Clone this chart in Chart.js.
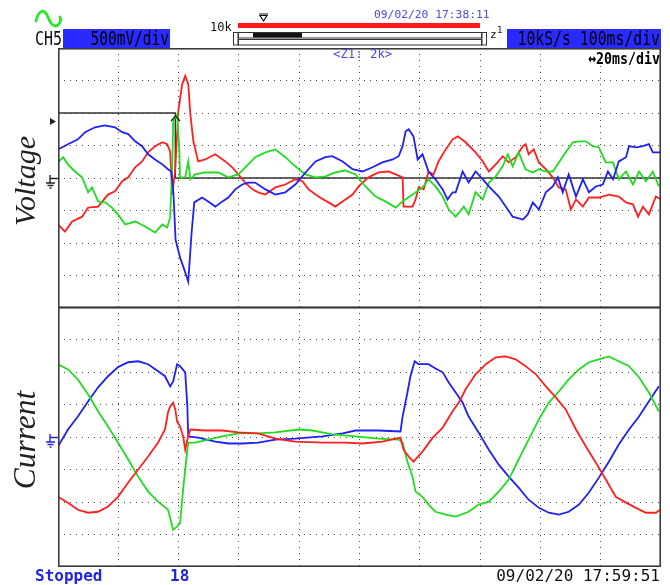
<!DOCTYPE html>
<html>
<head>
<meta charset="utf-8">
<script src="https://cdn.jsdelivr.net/npm/chart.js@4.4.1/dist/chart.umd.min.js"></script>
<style>
  body { margin: 0; width: 670px; height: 585px; background: #fff; position: relative; overflow: hidden; }
  canvas { position: absolute; }
  #voltChart { left: 58px; top: 48px; }
  #currChart { left: 58px; top: 307px; }
  svg.ov { position: absolute; left: 0; top: 0; pointer-events: none; }
  svg text { font-family: 'DejaVu Sans Mono', monospace; }
</style>
</head>
<body>
<canvas id="voltChart" width="603" height="260"></canvas>
<canvas id="currChart" width="603" height="260"></canvas>

<svg class="ov" width="670" height="585" viewBox="0 0 670 585">
  <!-- header -->
  <path d="M36,21 C38,12 43,8 46.5,14 C49,19 51,26 55,26 C59,26 62,21 60,17" fill="none" stroke="#2ee62e" stroke-width="2.8" stroke-linecap="round"/>
  <text transform="translate(35,45) scale(1,1.28)" font-size="15" fill="#111">CH5</text>
  <rect x="63" y="29" width="107" height="19" fill="#2a2aff"/>
  <text transform="translate(169,45) scale(1,1.3)" font-size="14.5" fill="#000" text-anchor="end">500mV/div</text>

  <text x="210" y="31" font-size="12" fill="#111">10k</text>
  <rect x="238" y="23" width="242" height="5" fill="#ff1a1a"/>
  <path d="M259,14 H268 M260,15.5 L267,15.5 L263.5,21 Z" fill="none" stroke="#111" stroke-width="1.2"/>
  <rect x="233.5" y="32.5" width="4.5" height="12.5" fill="#fff" stroke="#333"/>
  <rect x="238.5" y="32.5" width="243" height="5.5" fill="#fff" stroke="#333"/>
  <rect x="253" y="33" width="49" height="4.5" fill="#111"/>
  <rect x="238.5" y="39.5" width="243" height="5.5" fill="#fff" stroke="#333"/>
  <rect x="482" y="32.5" width="4.5" height="12.5" fill="#fff" stroke="#333"/>
  <text x="490" y="38" font-size="11" fill="#111">z</text>
  <text x="497" y="33" font-size="9" fill="#111">1</text>
  <text x="374" y="18" font-size="11.3" fill="#4b4bdc">09/02/20 17:38:11</text>
  <rect x="507" y="29" width="154" height="19" fill="#2a2aff"/>
  <text transform="translate(660,45) scale(1,1.3)" font-size="14.8" fill="#000" text-anchor="end">10kS/s 100ms/div</text>

  <text x="333" y="58" font-size="12.3" fill="#4b4bdc">&lt;Z1: 2k&gt;</text>
  <text transform="translate(660,64) scale(1,1.25)" font-size="13.3" font-weight="bold" fill="#000" text-anchor="end">↔20ms/div</text>

  <!-- panel labels and markers -->
  <text transform="translate(35,181) rotate(-90)" font-style="italic" font-size="30" fill="#222" text-anchor="middle" style="font-family:'Liberation Serif',serif">Voltage</text>
  <text transform="translate(35,440) rotate(-90)" font-style="italic" font-size="31.5" fill="#222" text-anchor="middle" style="font-family:'Liberation Serif',serif">Current</text>
  <polygon points="50,118 56,121.5 50,125" fill="#222"/>
  <path d="M50,175 V183 M50,178.5 H58 M46,183 H55 M47.5,185.5 H53.5 M49.5,188 H51.5" fill="none" stroke="#222" stroke-width="1.4"/>
  <path d="M50,434 V442 M50,437.5 H58 M46,442 H55 M47.5,444.5 H53.5 M49.5,447 H51.5" fill="none" stroke="#2323e0" stroke-width="1.4"/>
  <path d="M171,121 L175.5,116 L180,121" fill="none" stroke="#222" stroke-width="1.2"/>

  <!-- footer -->
  <text x="35" y="581" font-size="16" font-weight="bold" fill="#2323e0">Stopped</text>
  <text x="170" y="581" font-size="16" font-weight="bold" fill="#2323e0">18</text>
  <text x="660" y="581" font-size="16" fill="#111" text-anchor="end">09/02/20 17:59:51</text>
</svg>

<script>
// time in ms (20 ms/div), amplitude in divisions (8 div full scale)
const voltBlueT = [0,3.3,6.6,9.0,12.3,15.6,18.9,21.3,23.3,25.6,27.9,29.9,32.2,34.6,36.5,37.6,38.3,39.0,40.5,42.0,43.2,44.3,45.2,47.8,49.8,52.2,54.5,56.5,58.8,61.1,63.1,65.4,68.8,72.1,75.4,78.7,82.1,85.4,88.7,91.0,94.4,97.7,101.0,104.3,107.6,111.0,113.0,114.3,115.3,116.3,117.9,119.3,120.9,122.9,125.2,127.6,129.2,130.9,131.9,134.2,136.2,138.5,140.9,142.9,146.2,148.5,150.8,154.2,155.8,157.5,159.5,161.8,164.1,165.8,167.4,169.4,171.8,174.1,176.1,178.4,180.7,182.4,184.1,186.0,188.4,189.4,191.7,194.0,196.0,197.3,200];
const voltBlue = [0.88,1.04,1.19,1.41,1.56,1.62,1.56,1.41,1.35,1.13,0.98,0.73,0.57,0.42,0.27,0.20,-0.50,-1.90,-2.45,-2.85,-3.19,-1.70,-0.75,-0.60,-0.72,-0.88,-0.72,-0.60,-0.35,-0.20,-0.14,-0.14,-0.35,-0.51,-0.44,-0.20,0.17,0.51,0.64,0.67,0.51,0.27,0.20,0.33,0.48,0.57,0.67,0.98,1.44,1.50,1.28,0.57,0.73,0.20,-0.04,-0.35,-0.66,-0.44,-0.44,0.20,-0.14,0.20,-0.04,-0.26,-0.57,-0.88,-1.19,-1.28,-1.12,-0.75,-0.97,-0.44,-0.26,0.02,-0.44,0.11,-0.57,-0.04,-0.44,-0.26,-0.20,0.20,-0.04,0.51,0.64,0.98,0.94,0.98,1.04,0.79,0.79];

const voltRedT = [0,2.3,4.7,8.0,10.0,13.3,16.6,18.9,21.3,23.3,25.6,27.9,29.9,32.2,34.6,36.2,37.2,37.9,38.9,39.9,41.2,42.2,43.2,43.9,44.9,46.5,48.8,52.2,55.5,57.8,59.8,62.1,64.5,66.4,68.8,72.1,75.4,78.7,81.1,83.1,86.4,89.7,92.0,94.4,97.7,99.7,103.0,106.3,109.6,112.0,114.3,114.6,117.6,118.6,119.6,121.3,122.9,124.6,126.2,128.6,130.9,132.6,135.2,138.5,140.9,142.9,145.2,147.5,149.5,151.8,154.2,155.1,156.1,157.8,159.5,161.8,164.1,166.1,168.4,170.1,171.8,174.1,176.1,179.4,182.7,186.0,188.4,190.7,192.4,194.0,196.0,198.3,200];
const voltRed = [-1.43,-1.65,-1.34,-1.19,-0.91,-0.88,-0.51,-0.41,-0.10,0.02,0.33,0.51,0.79,0.98,1.10,1.04,0.82,-0.51,0.27,2.06,2.89,3.14,2.89,1.96,1.13,0.51,0.57,0.73,0.51,0.33,0.11,-0.14,-0.35,-0.44,-0.51,-0.29,-0.20,-0.04,-0.10,-0.35,-0.57,-0.75,-0.88,-0.72,-0.51,-0.26,0.02,0.17,0.20,0.11,0.02,-0.88,-0.88,-0.66,-0.29,-0.35,0.20,0.11,0.51,0.88,1.19,1.28,1.10,0.79,0.51,0.20,0.42,0.67,0.48,0.64,0.98,1.04,0.73,0.88,0.48,0.27,0.02,-0.29,-0.35,-0.97,-0.66,-0.88,-0.60,-0.60,-0.51,-0.57,-0.75,-0.81,-1.19,-0.88,-1.12,-0.57,-0.66];

const voltGreenT = [0,1.7,3.3,5.6,8.0,10.0,11.3,13.3,15.6,17.9,19.9,22.3,25.6,28.9,32.2,34.6,36.2,37.2,37.9,38.2,39.5,40.2,40.5,42.2,43.2,43.9,45.5,48.8,53.2,56.5,59.8,63.1,65.4,68.8,72.1,75.4,78.7,82.1,85.4,88.7,92.0,95.3,98.7,102.0,105.3,108.6,112.0,114.3,117.6,120.9,122.9,125.2,127.6,129.6,131.9,134.6,136.2,138.5,140.9,142.9,145.2,147.5,149.2,150.8,152.8,155.1,157.5,159.5,161.8,164.1,166.1,168.4,170.8,172.8,175.1,177.4,179.4,181.7,184.1,186.0,188.4,190.7,192.7,195.0,197.3,199.3];
const voltGreen = [0.48,0.64,0.42,0.20,0.02,-0.44,-0.29,-0.72,-0.75,-0.91,-1.12,-1.43,-1.34,-1.49,-1.68,-1.43,-1.52,-1.22,0.42,1.75,1.96,0.94,0.02,0.02,0.51,-0.04,0.11,0.17,0.17,0.02,0.11,0.42,0.64,0.79,0.88,0.64,0.36,0.11,0.02,0.05,0.17,0.23,0.11,-0.26,-0.57,-0.72,-0.91,-0.72,-0.51,-0.29,-0.04,-0.26,-0.57,-0.97,-1.19,-0.88,-1.12,-0.44,-0.66,-0.14,0.05,0.36,0.73,0.36,0.79,0.27,0.17,0.27,0.20,0.20,0.48,0.79,1.10,1.13,1.13,0.98,0.94,0.48,0.48,-0.04,0.20,-0.20,0.20,-0.10,0.20,-0.26];

// trigger level cursor
const trigT = [0, 38.9, 38.9, 200];
const trigV = [2.0, 2.0, 0, 0];

const currBlueT = [0,3.3,6.6,10.0,13.3,16.6,19.9,23.3,26.6,29.9,33.2,35.5,37.2,38.2,39.5,40.5,42.2,42.9,43.2,46.5,52.2,56.5,61.1,66.4,72.1,78.7,87.7,94.4,98.7,106.3,113.6,114.3,115.9,116.9,118.3,119.6,122.9,125.2,127.6,129.6,131.9,134.2,136.2,139.5,142.9,146.2,149.5,152.8,156.1,159.5,162.8,166.1,169.4,172.8,176.1,179.4,182.7,186.0,189.4,192.7,196.0,199.3];
const currBlue = [-0.29,0.23,0.63,1.10,1.53,1.87,2.15,2.30,2.33,2.24,2.02,1.87,1.56,1.71,2.24,2.18,1.99,0.94,0.02,-0.02,-0.14,-0.20,-0.20,-0.17,-0.08,-0.05,0.02,0.11,0.20,0.20,0.17,0.63,1.37,1.87,2.33,2.24,2.24,2.11,1.99,1.68,1.37,1.06,0.63,0.14,-0.39,-0.85,-1.22,-1.56,-1.93,-2.18,-2.33,-2.39,-2.30,-2.08,-1.71,-1.25,-0.76,-0.23,0.23,0.63,1.10,1.56];

const currRedT = [0,3.3,6.6,10.0,13.3,16.6,19.9,23.3,26.6,29.9,33.2,35.5,36.5,37.2,38.2,38.9,39.5,40.5,41.5,42.2,42.9,43.9,48.8,54.5,59.8,66.4,72.1,78.7,87.7,95.3,101.0,107.6,113.6,114.6,116.3,117.9,120.9,124.3,127.6,130.9,133.2,135.2,138.5,141.9,145.2,148.5,151.8,155.1,158.5,161.8,165.1,168.4,171.8,175.1,178.4,181.7,185.0,188.4,191.7,195.0,198.3,199.7];
const currRed = [-1.84,-2.02,-2.24,-2.33,-2.30,-2.14,-1.84,-1.40,-1.00,-0.60,-0.17,0.23,0.76,0.94,1.06,0.85,0.48,0.32,0.02,-0.39,-0.08,0.23,0.20,0.20,0.14,0.11,-0.05,-0.14,-0.17,-0.17,-0.20,-0.14,-0.02,-0.39,-0.60,-0.76,-0.45,-0.02,0.29,0.79,1.10,1.47,1.93,2.24,2.45,2.48,2.39,2.18,1.93,1.56,1.22,0.85,0.23,-0.29,-0.79,-1.31,-1.84,-2.02,-2.18,-2.33,-2.33,-2.24];

const currGreenT = [0,3.3,6.6,10.0,13.3,16.6,19.9,23.3,26.6,29.9,33.2,36.5,38.2,39.5,40.5,41.5,42.9,43.2,45.5,49.8,54.5,59.8,66.4,72.1,79.7,84.4,91.0,98.7,106.3,113.0,114.3,115.9,117.6,118.6,120.9,122.9,125.2,128.6,131.9,136.2,139.5,142.9,146.2,149.5,152.8,156.1,159.5,162.8,166.1,169.4,172.8,176.1,179.4,182.7,186.0,189.4,192.7,196.0,199.3];
const currGreen = [2.24,2.08,1.77,1.31,0.79,0.32,-0.17,-0.69,-1.22,-1.68,-1.99,-2.24,-2.85,-2.76,-2.64,-1.61,-0.39,-0.17,-0.17,-0.08,0.02,0.11,0.11,0.14,0.23,0.20,0.08,0.02,-0.05,-0.08,-0.17,-0.76,-1.22,-1.68,-1.84,-2.08,-2.30,-2.39,-2.45,-2.30,-2.08,-1.99,-1.68,-1.31,-0.69,-0.08,0.54,1.06,1.40,1.77,2.08,2.30,2.39,2.48,2.33,2.18,1.84,1.37,0.79];

const RED = '#ff1f1f', GREEN = '#1fdc1f', BLUE = '#2020f4';

function pts(t, v) {
    let out = [];
    for (let i = 0; i < Math.min(t.length, v.length); i++) out.push({ x: t[i], y: v[i] });
    return out;
}

function trace(t, v, color, width) {
    return { data: pts(t, v), borderColor: color, borderWidth: width || 1.8, pointRadius: 0, tension: 0 };
}

// dark frame round each panel
const framePlugin = {
    id: 'frame',
    afterDraw(chart) {
        const { ctx, chartArea: a } = chart;
        ctx.save();
        ctx.strokeStyle = '#3c3c3c';
        ctx.lineWidth = 1.6;
        ctx.strokeRect(a.left + 0.8, a.top + 0.8, a.width - 1.6, a.height - 1.6);
        ctx.restore();
    }
};

function scopeChart(id, sets) {
    const gridOpts = { color: '#4a4a4a', lineWidth: 1, drawTicks: false };
    return new Chart(document.getElementById(id), {
        type: 'line',
        data: { datasets: sets },
        options: {
            responsive: false,
            animation: false,
            events: [],
            layout: { padding: 0 },
            plugins: { legend: { display: false }, tooltip: { enabled: false } },
            scales: {
                x: {
                    type: 'linear', min: 0, max: 200,
                    ticks: { display: false, stepSize: 20 },
                    grid: gridOpts,
                    border: { display: false, dash: [1, 5] }
                },
                y: {
                    min: -4, max: 4,
                    ticks: { display: false, stepSize: 1 },
                    grid: gridOpts,
                    border: { display: false, dash: [1, 5] }
                }
            }
        },
        plugins: [framePlugin]
    });
}

scopeChart('voltChart', [
    trace(voltBlueT, voltBlue, BLUE),
    trace(voltGreenT, voltGreen, GREEN),
    trace(voltRedT, voltRed, RED),
    trace(trigT, trigV, '#333', 1.4)
]);

scopeChart('currChart', [
    trace(currRedT, currRed, RED),
    trace(currGreenT, currGreen, GREEN),
    trace(currBlueT, currBlue, BLUE)
]);
</script>
</body>
</html>
